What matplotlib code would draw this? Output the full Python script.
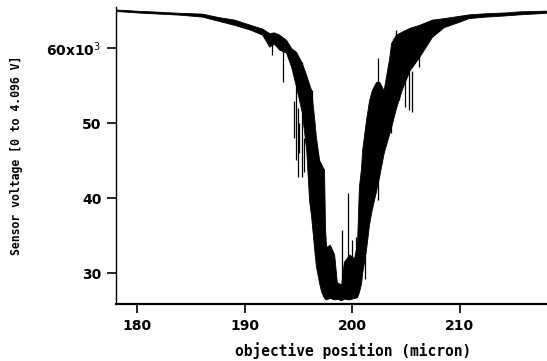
import numpy as np
import matplotlib
matplotlib.use("Agg")
import matplotlib.pyplot as plt

# objective position (micron) and envelope of the noisy sensor trace (x1000 counts)
pos = [178.0, 180.0, 182.0, 184.0, 186.0, 187.5, 189.0, 190.5, 191.6, 192.26,
       192.7, 193.18, 193.83, 194.3, 194.76, 195.3, 195.7, 195.97, 196.16, 196.45,
       196.6, 196.9, 197.1, 197.36, 197.45, 197.55, 197.9, 198.3, 198.55, 198.95,
       199.2, 199.7, 200.15, 200.43, 200.6, 200.8, 200.9, 201.26, 201.54, 201.8,
       202.2, 202.5, 202.9, 203.4, 203.6, 204.05, 204.6, 205.3, 206.2, 207.4,
       208.5, 209.9, 210.8, 212.4, 214.1, 215.5, 218.0]
lower_k = [64.95, 64.75, 64.6, 64.45, 64.2, 63.65, 63.1, 62.45, 61.8, 60.2,
           60.6, 59.8, 59.4, 57.5, 54.8, 51.4, 46.4, 39.7, 37.5, 33.1,
           31.0, 28.7, 27.5, 26.7, 26.6, 26.5, 26.7, 26.5, 26.6, 26.4,
           26.6, 26.5, 26.7, 26.8, 27.5, 28.6, 30.0, 33.1, 36.5, 38.5,
           41.0, 43.0, 46.0, 48.5, 49.5, 52.0, 54.5, 57.0, 58.8, 61.5,
           62.8, 63.5, 64.0, 64.2, 64.35, 64.5, 64.7]
upper_k = [65.15, 64.98, 64.85, 64.7, 64.6, 64.15, 63.8, 63.1, 62.6, 62.0,
           62.1, 61.8, 61.1, 60.0, 59.5, 58.0, 56.4, 55.2, 54.4, 50.5,
           48.2, 45.1, 44.5, 43.8, 36.0, 33.5, 33.8, 32.5, 28.8, 28.5,
           31.5, 32.5, 32.0, 34.0, 41.5, 44.0, 46.4, 50.4, 53.0, 54.4,
           55.5, 55.5, 54.4, 58.5, 60.7, 61.8, 62.2, 62.7, 63.1, 63.8,
           64.0, 64.3, 64.5, 64.65, 64.75, 64.9, 65.0]

# isolated spikes: position, start and end of each (x1000 counts)
spike_pos = [192.5, 193.5, 194.6, 194.76, 194.9, 195.0, 195.3, 195.5, 195.3,
             196.25, 199.0, 199.6, 199.96, 200.33, 201.2, 202.4, 202.5, 203.6,
             204.3, 204.9, 205.3, 205.5, 206.2, 202.4, 204.05, 204.8, 205.5]
spike_from = [61.0, 60.0, 53.0, 55.0, 52.0, 50.0, 52.0, 48.0, 55.0,
              50.0, 28.0, 29.0, 29.0, 29.0, 33.0, 43.0, 45.0, 50.0,
              55.0, 57.0, 57.0, 57.0, 59.5, 55.0, 61.0, 61.5, 61.5]
spike_to = [59.1, 55.5, 48.0, 45.1, 42.8, 46.0, 42.8, 43.5, 58.2,
            54.4, 35.8, 40.7, 34.4, 34.8, 29.2, 39.7, 43.75, 48.7,
            53.1, 52.2, 51.8, 51.5, 57.5, 58.7, 62.4, 62.3, 62.4]

xticks = [180, 190, 200, 210]
yticks = [30, 40, 50, 60]
ytick_labels = ["30", "40", "50", "60x10$^{3}$"]

fig = plt.figure(figsize=(5.47, 3.61), dpi=100)
ax = fig.add_axes([0.212, 0.158, 0.786, 0.823])

ax.fill_between(pos, lower_k, upper_k, color="black", lw=0.6, edgecolor="black")
ax.vlines(spike_pos, spike_from, spike_to, color="black", lw=0.9)

ax.set_xlim(178, 218)
ax.set_ylim(25.9, 65.5)
ax.set_xticks(xticks)
ax.set_yticks(yticks)
ax.set_yticklabels(ytick_labels)
for lab in ax.get_xticklabels() + ax.get_yticklabels():
    lab.set_fontweight("bold")

for s in ["top", "right"]:
    ax.spines[s].set_visible(False)
ax.spines["bottom"].set_linewidth(1.6)
ax.spines["left"].set_linewidth(1.0)
ax.tick_params(direction="out", length=6.5, width=1.2, labelsize=10, pad=4)

fig.text(0.645, 0.03, "objective position (micron)", ha="center", va="center",
         fontsize=10.5, family="DejaVu Sans Mono", fontweight="bold")
fig.text(0.031, 0.571, "Sensor voltage [0 to 4.096 V]", ha="center", va="center",
         rotation=90, fontsize=8.3, family="DejaVu Sans Mono", fontweight="bold")

fig.savefig("out.png", dpi=100)
